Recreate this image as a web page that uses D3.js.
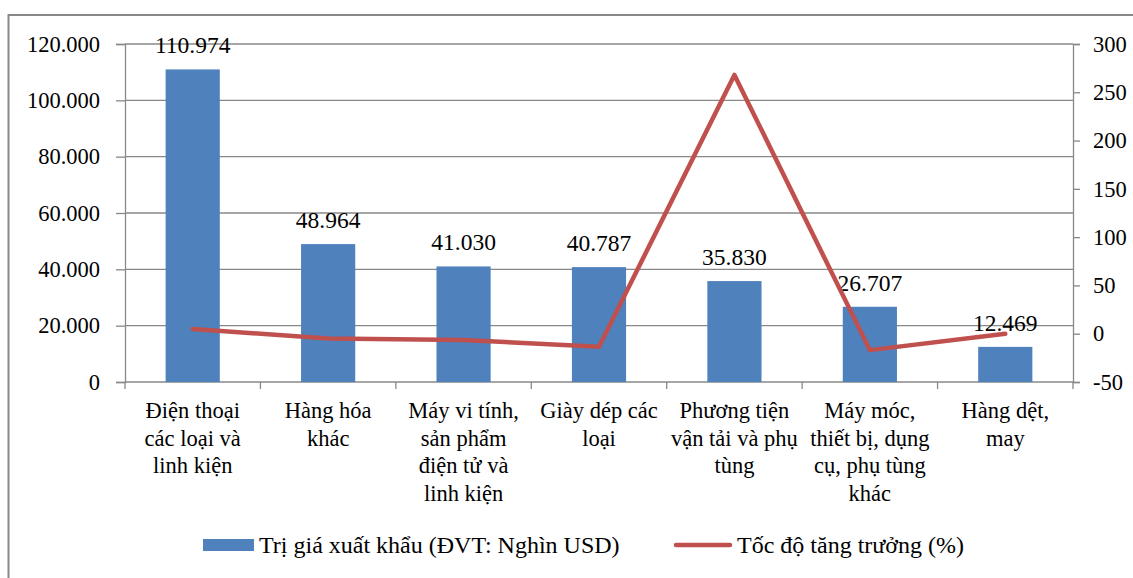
<!DOCTYPE html>
<html lang="vi">
<head>
    <meta charset="UTF-8">
    <script src="https://d3js.org/d3.v7.min.js"></script>
    <style>
        body { margin: 0; background: white; }
    </style>
</head>
<body>
    <svg id="chart" width="1133" height="578" font-family="Liberation Serif, serif"></svg>
    <script>
        // dữ liệu
        const categories = [
            ["Điện thoại", "các loại và", "linh kiện"],
            ["Hàng hóa", "khác"],
            ["Máy vi tính,", "sản phẩm", "điện tử và", "linh kiện"],
            ["Giày dép các", "loại"],
            ["Phương tiện", "vận tải và phụ", "tùng"],
            ["Máy móc,", "thiết bị, dụng", "cụ, phụ tùng", "khác"],
            ["Hàng dệt,", "may"]
        ];
        const exportValues = [110974, 48964, 41030, 40787, 35830, 26707, 12469];
        const growthRates = [5, -5, -6.5, -13.5, 268, -17, 0];
        const leftTicks = [0, 20000, 40000, 60000, 80000, 100000, 120000];
        const rightTicks = [-50, 0, 50, 100, 150, 200, 250, 300];
        const legendLabels = ["Trị giá xuất khẩu (ĐVT: Nghìn USD)", "Tốc độ tăng trưởng (%)"];

        const width = 1133, height = 578;
        const margin = { top: 44, left: 125 };
        const plotRight = 1073, plotBottom = 382;
        const barColor = "#4F81BD", lineColor = "#C0504D", gridColor = "#888888";
        const fontFamily = "Liberation Serif, serif";

        const svg = d3.select("#chart");
        const fmt = d3.formatLocale({ decimal: ",", thousands: ".", grouping: [3], currency: ["", ""] }).format(",d");
        const keys = categories.map((d, i) => i);

        const x = d3.scaleBand().domain(keys).range([margin.left, plotRight]).paddingInner(0.6).paddingOuter(0.3);
        const yL = d3.scaleLinear().domain([0, 120000]).range([plotBottom, margin.top]);
        const yR = d3.scaleLinear().domain([-50, 300]).range([plotBottom, margin.top]);

        // khung ngoài
        svg.append("path")
            .attr("d", `M8.5,${height + 5} V15 H${width + 5}`)
            .attr("fill", "none").attr("stroke", gridColor).attr("stroke-width", 2);

        // lưới ngang
        svg.append("g").selectAll("line")
            .data(leftTicks.filter(d => d > 0))
            .enter().append("line")
            .attr("x1", margin.left).attr("x2", plotRight)
            .attr("y1", d => yL(d)).attr("y2", d => yL(d))
            .attr("stroke", gridColor).attr("stroke-width", 1.3);

        // trục trái
        const gL = svg.append("g").attr("transform", `translate(${margin.left},0)`)
            .call(d3.axisLeft(yL).tickValues(leftTicks).tickSize(9).tickPadding(16).tickFormat(d => fmt(d)));
        // trục phải
        const gR = svg.append("g").attr("transform", `translate(${plotRight},0)`)
            .call(d3.axisRight(yR).tickValues(rightTicks).tickSize(7).tickPadding(13).tickFormat(d => String(d)));
        [gL, gR].forEach(g => {
            g.attr("font-family", fontFamily).attr("font-size", 22.5);
            g.select(".domain").attr("stroke", gridColor).attr("stroke-width", 1.3);
            g.selectAll(".tick line").attr("stroke", gridColor).attr("stroke-width", 1.3);
            g.selectAll(".tick text").attr("fill", "#000");
        });

        // trục hoành
        const boundaries = d3.range(categories.length + 1).map(i => x.range()[0] + i * x.step());
        const gX = svg.append("g");
        gX.append("line")
            .attr("x1", margin.left).attr("x2", plotRight)
            .attr("y1", plotBottom).attr("y2", plotBottom)
            .attr("stroke", gridColor).attr("stroke-width", 1.3);
        gX.selectAll(".xtick").data(boundaries).enter().append("line")
            .attr("x1", d => d).attr("x2", d => d)
            .attr("y1", plotBottom).attr("y2", plotBottom + 7)
            .attr("stroke", gridColor).attr("stroke-width", 1.3);

        const xLabels = gX.selectAll(".xlabel").data(categories).enter().append("text")
            .attr("text-anchor", "middle")
            .attr("font-size", 22.5)
            .attr("transform", (d, i) => `translate(${x(i) + x.bandwidth() / 2},418)`);
        xLabels.selectAll("tspan").data(d => d).enter().append("tspan")
            .attr("x", 0).attr("y", (d, j) => j * 27.5)
            .text(d => d);

        // cột
        svg.append("g").selectAll("rect")
            .data(exportValues)
            .enter().append("rect")
            .attr("x", (d, i) => x(i))
            .attr("y", d => yL(d))
            .attr("width", x.bandwidth())
            .attr("height", d => plotBottom - yL(d))
            .attr("fill", barColor);

        // nhãn giá trị
        svg.append("g").selectAll("text")
            .data(exportValues)
            .enter().append("text")
            .attr("x", (d, i) => x(i) + x.bandwidth() / 2)
            .attr("y", d => yL(d) - 16)
            .attr("text-anchor", "middle")
            .attr("font-size", 23.5)
            .text(d => fmt(d));

        // đường tốc độ tăng trưởng
        const line = d3.line()
            .x((d, i) => x(i) + x.bandwidth() / 2)
            .y(d => yR(d));
        svg.append("path")
            .datum(growthRates)
            .attr("d", line)
            .attr("fill", "none")
            .attr("stroke", lineColor)
            .attr("stroke-width", 4.5)
            .attr("stroke-linejoin", "round")
            .attr("stroke-linecap", "round");

        // chú giải
        const legend = svg.append("g");
        legend.append("rect").attr("x", 203).attr("y", 539).attr("width", 51).attr("height", 12).attr("fill", barColor);
        legend.append("text").attr("x", 259).attr("y", 553).attr("font-size", 24).text(legendLabels[0]);
        legend.append("line").attr("x1", 676).attr("x2", 730).attr("y1", 545).attr("y2", 545)
            .attr("stroke", lineColor).attr("stroke-width", 4.5).attr("stroke-linecap", "round");
        legend.append("text").attr("x", 737).attr("y", 553).attr("font-size", 24).text(legendLabels[1]);

        svg.selectAll("text").attr("font-family", fontFamily).attr("fill", "#000");
    </script>
</body>
</html>
